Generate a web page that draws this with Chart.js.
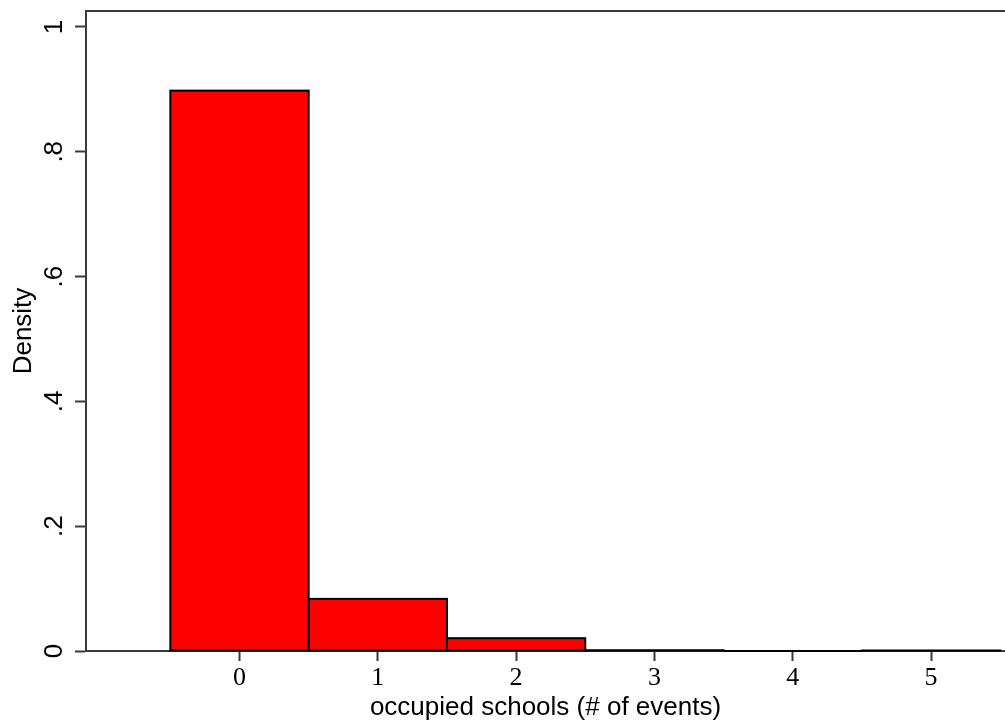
<!DOCTYPE html>
<html>
<head>
<meta charset="utf-8">
<script src="https://cdn.jsdelivr.net/npm/chart.js@4.4.0/dist/chart.umd.min.js"></script>
<style>
  html, body { margin: 0; padding: 0; background: #fff; overflow: hidden; }
  #wrap { width: 1005px; height: 723px; position: relative; }
</style>
</head>
<body>
<div id="wrap"><canvas id="hist"></canvas></div>
<script>
// occupied schools histogram (density per number of events)

const events = [0, 1, 2, 3, 4, 5];
const densities = [0.898, 0.0835, 0.0205, 0.0012, 0, 0.0006];

const yTickValues = [0, 0.2, 0.4, 0.6, 0.8, 1];
const yTickLabels = ['0', '.2', '.4', '.6', '.8', '1'];
const xTickValues = [0, 1, 2, 3, 4, 5];

const AXIS_COLOR = '#3a3a3a';

// y labels are drawn rotated, like the Stata original
const rotatedYLabels = {
    id: 'rotatedYLabels',
    afterDraw(chart) {
        const ctx = chart.ctx;
        const scale = chart.scales.y;
        ctx.save();
        ctx.font = '26px "Liberation Sans", Arial, sans-serif';
        ctx.fillStyle = '#000';
        ctx.textAlign = 'center';
        ctx.textBaseline = 'alphabetic';
        yTickValues.forEach(function(v, i) {
            const py = scale.getPixelForValue(v);
            ctx.save();
            ctx.translate(62, py);
            ctx.rotate(-Math.PI / 2);
            ctx.fillText(yTickLabels[i], 0, 0);
            ctx.restore();
        });
        ctx.restore();
    }
};

// black outlines centred on the bar edges (chart.js clamps borders on thin bars)
const barOutlines = {
    id: 'barOutlines',
    afterDatasetsDraw(chart) {
        const ctx = chart.ctx;
        const meta = chart.getDatasetMeta(0);
        ctx.save();
        ctx.strokeStyle = '#000';
        ctx.lineWidth = 2;
        meta.data.forEach(function(bar) {
            const p = bar.getProps(['x', 'y', 'base', 'width'], true);
            if (!isFinite(p.y) || !isFinite(p.base)) return;
            ctx.strokeRect(p.x - p.width / 2, p.y, p.width, p.base - p.y);
        });
        ctx.restore();
    }
};

// top edge of the plot region frame
const frameTop = {
    id: 'frameTop',
    afterDraw(chart) {
        const ctx = chart.ctx;
        const a = chart.chartArea;
        ctx.save();
        ctx.strokeStyle = AXIS_COLOR;
        ctx.lineWidth = 2;
        ctx.beginPath();
        ctx.moveTo(a.left - 1, a.top);
        ctx.lineTo(a.right, a.top);
        ctx.stroke();
        ctx.restore();
    }
};

const ctx = document.getElementById('hist').getContext('2d');

new Chart(ctx, {
    type: 'bar',
    data: {
        datasets: [{
            data: events.map((e, i) => ({ x: e, y: densities[i] > 0 ? densities[i] : null })),
            backgroundColor: '#ff0000',
            borderWidth: 0,
            barPercentage: 1,
            categoryPercentage: 1
        }]
    },
    options: {
        responsive: true,
        maintainAspectRatio: false,
        animation: false,
        layout: { padding: { top: 11, right: 0, left: 0, bottom: 0 } },
        plugins: {
            legend: { display: false },
            tooltip: { enabled: false }
        },
        scales: {
            x: {
                type: 'linear',
                offset: false,
                min: -1.11,
                max: 5.535,
                afterBuildTicks: function(scale) {
                    scale.ticks = xTickValues.map(v => ({ value: v }));
                },
                afterFit: function(scale) {
                    scale.height = 72;
                },
                grid: {
                    offset: false,
                    drawOnChartArea: false,
                    drawTicks: true,
                    tickLength: 10,
                    tickWidth: 2,
                    tickColor: AXIS_COLOR
                },
                border: { display: true, color: AXIS_COLOR, width: 2 },
                ticks: {
                    padding: 2,
                    color: '#000',
                    maxRotation: 0,
                    font: { family: '"Liberation Serif", "Times New Roman", serif', size: 26 },
                    callback: v => String(v)
                },
                title: {
                    display: true,
                    text: 'occupied schools (# of events)',
                    color: '#000',
                    padding: { top: 0, bottom: 0 },
                    font: { family: '"Liberation Sans", Arial, sans-serif', size: 26 }
                }
            },
            y: {
                type: 'linear',
                min: 0,
                max: 1.0256,
                afterBuildTicks: function(scale) {
                    scale.ticks = yTickValues.map(v => ({ value: v }));
                },
                afterFit: function(scale) {
                    scale.width = 86;
                },
                grid: {
                    drawOnChartArea: false,
                    drawTicks: true,
                    tickLength: 11,
                    tickWidth: 2,
                    tickColor: AXIS_COLOR
                },
                border: { display: true, color: AXIS_COLOR, width: 2 },
                ticks: {
                    color: 'rgba(0,0,0,0)',
                    font: { size: 12 }
                },
                title: {
                    display: true,
                    text: 'Density',
                    color: '#000',
                    padding: { top: 8, bottom: 0 },
                    font: { family: '"Liberation Sans", Arial, sans-serif', size: 26 }
                }
            }
        }
    },
    plugins: [barOutlines, rotatedYLabels, frameTop]
});
</script>
</body>
</html>
